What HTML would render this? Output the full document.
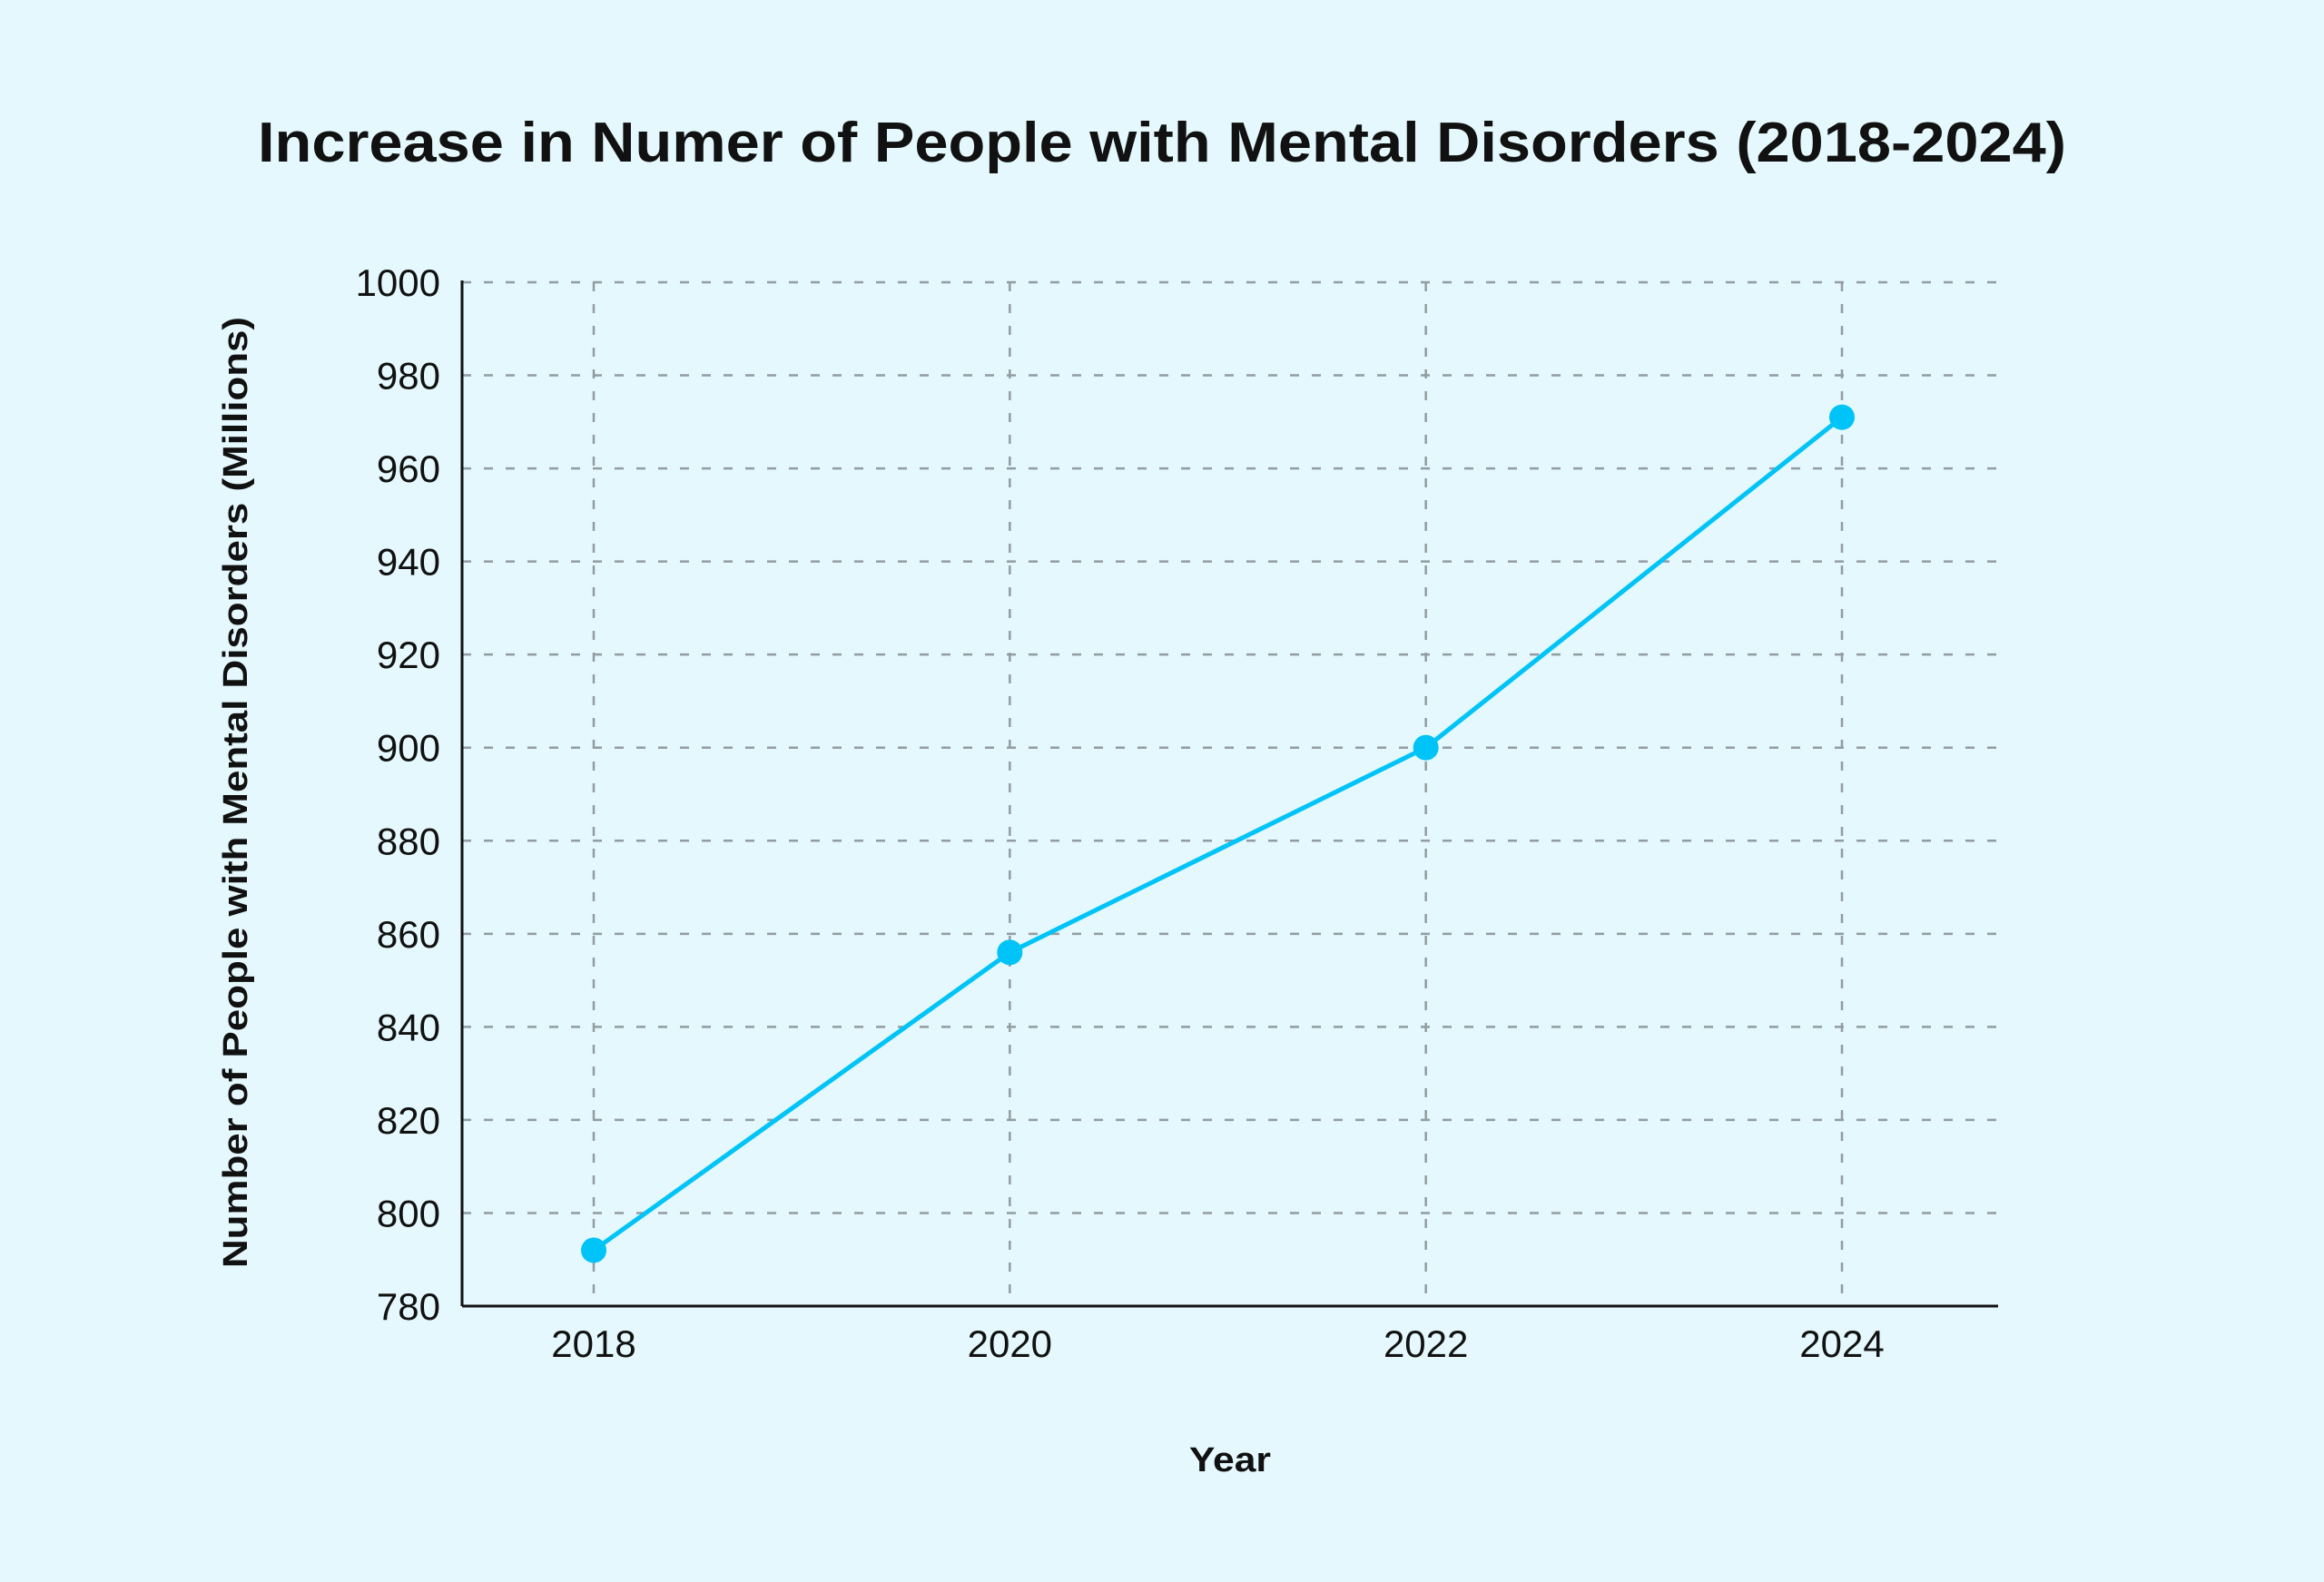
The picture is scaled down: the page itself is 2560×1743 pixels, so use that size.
<!DOCTYPE html>
<html><head><meta charset="utf-8"><style>
html,body{margin:0;padding:0;background:#e4f8fd;}
svg{display:block;font-family:"Liberation Sans",sans-serif;}
</style></head><body>
<svg id="chart" width="2560" height="1743" viewBox="0 0 2560 1743" xmlns="http://www.w3.org/2000/svg">
<rect width="2560" height="1743" fill="#e4f8fd"/>
<text x="1280" y="178" text-anchor="middle" font-size="62" font-weight="bold" fill="#111" textLength="1992" lengthAdjust="spacingAndGlyphs">Increase in Numer of People with Mental Disorders (2018-2024)</text>
<g id="grid"></g>
<g id="axes"></g>
<g id="series"></g>
<text x="1355" y="1621" text-anchor="middle" font-size="38" font-weight="bold" fill="#111" textLength="90" lengthAdjust="spacingAndGlyphs">Year</text>
<text transform="translate(272,873) rotate(-90)" text-anchor="middle" font-size="38" font-weight="bold" fill="#111" textLength="1048" lengthAdjust="spacingAndGlyphs">Number of People with Mental Disorders (Millions)</text>
</svg>
<script>
const years = [2018, 2020, 2022, 2024];
const values = [792, 856, 900, 971];
const yTicks = [780, 800, 820, 840, 860, 880, 900, 920, 940, 960, 980, 1000];
const NS = "http://www.w3.org/2000/svg";
const L = 509, R = 2201, T = 311, B = 1439;
const yMin = 780, yMax = 1000;
const xScale = y => 654 + (y - 2018) / 6 * (2029 - 654);
const yScale = v => B - (v - yMin) / (yMax - yMin) * (B - T);
function mk(tag, attrs, parent) { const e = document.createElementNS(NS, tag); for (const k in attrs) e.setAttribute(k, attrs[k]); parent.appendChild(e); return e; }
const grid = document.getElementById('grid'), axes = document.getElementById('axes'), series = document.getElementById('series');
yTicks.forEach(t => {
  const y = yScale(t);
  if (t !== yMin) {
    const g = mk('line', {x1: L, x2: R, y1: y, y2: y, stroke: '#939ca1', 'stroke-width': 2.5, 'stroke-dasharray': '10 14'}, grid);
    
    
  }
  const lb = mk('text', {x: 485, y: y + 15, 'text-anchor': 'end', 'font-size': 42, fill: '#111'}, axes);
  lb.textContent = t;
  
  
});
years.forEach(yr => {
  const x = xScale(yr);
  const g = mk('line', {x1: x, x2: x, y1: T, y2: B, stroke: '#939ca1', 'stroke-width': 2.5, 'stroke-dasharray': '10 14'}, grid);
  
  
  const lb = mk('text', {x: x, y: 1495, 'text-anchor': 'middle', 'font-size': 42, fill: '#111'}, axes);
  lb.textContent = yr;
  
  
});
const ya = mk('line', {x1: L, x2: L, y1: T - 2, y2: B, stroke: '#111', 'stroke-width': 3}, axes);


const xa = mk('line', {x1: L, x2: R, y1: B, y2: B, stroke: '#111', 'stroke-width': 3}, axes);


const pts = years.map((yr, i) => xScale(yr) + ',' + yScale(values[i])).join(' ');
const pl = mk('polyline', {points: pts, fill: 'none', stroke: '#00c3f7', 'stroke-width': 5}, series);


years.forEach((yr, i) => {
  const c = mk('circle', {cx: xScale(yr), cy: yScale(values[i]), r: 14, fill: '#00c3f7'}, series);
  
  
});
</script>
</body></html>
